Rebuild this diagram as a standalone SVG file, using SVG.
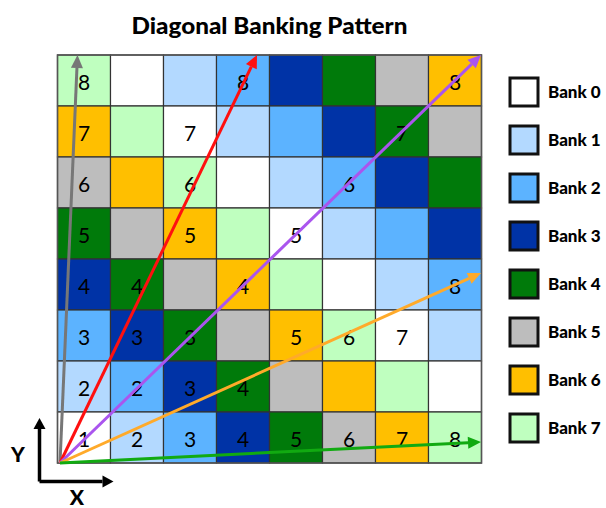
<svg xmlns="http://www.w3.org/2000/svg" width="606" height="508" viewBox="0 0 606 508">
<style>
.b0{fill:#FFFFFF}.b1{fill:#B3D9FF}.b2{fill:#5CB3FF}.b3{fill:#0033A6}.b4{fill:#007A0A}.b5{fill:#BDBDBD}.b6{fill:#FFBF00}.b7{fill:#BFFFBF}
.cell rect{stroke:#333;stroke-width:1.2}
.num{font-family:Lato,"Open Sans",sans-serif;font-size:21px;fill:#000;text-anchor:middle}
.title{font-family:Lato,"Open Sans",sans-serif;font-weight:900;font-size:23px;fill:#000;text-anchor:middle}
.leg rect{stroke:#111;stroke-width:3}
.leg text{font-family:Lato,"Open Sans",sans-serif;font-weight:900;font-size:17px;fill:#000}
.axl{font-family:Lato,"Open Sans",sans-serif;font-weight:900;font-size:21px;fill:#000;text-anchor:middle}
.conn line{stroke-width:3;fill:none}
</style>
<defs>
<marker id="ag" markerUnits="userSpaceOnUse" markerWidth="16" markerHeight="14" refX="0" refY="6" orient="auto" overflow="visible"><path d="M0,0 L13,6 L0,12 z" fill="#777777"/></marker>
<marker id="ar" markerUnits="userSpaceOnUse" markerWidth="16" markerHeight="14" refX="0" refY="6" orient="auto" overflow="visible"><path d="M0,0 L13,6 L0,12 z" fill="#FF1010"/></marker>
<marker id="ap" markerUnits="userSpaceOnUse" markerWidth="16" markerHeight="14" refX="0" refY="6" orient="auto" overflow="visible"><path d="M0,0 L13,6 L0,12 z" fill="#AA55EE"/></marker>
<marker id="ao" markerUnits="userSpaceOnUse" markerWidth="16" markerHeight="14" refX="0" refY="6" orient="auto" overflow="visible"><path d="M0,0 L13,6 L0,12 z" fill="#FFAA2A"/></marker>
<marker id="an" markerUnits="userSpaceOnUse" markerWidth="16" markerHeight="14" refX="0" refY="6" orient="auto" overflow="visible"><path d="M0,0 L13,6 L0,12 z" fill="#11AA11"/></marker>
<marker id="ak" markerUnits="userSpaceOnUse" markerWidth="16" markerHeight="14" refX="0" refY="6" orient="auto" overflow="visible"><path d="M0,0 L11,6 L0,12 z" fill="#000"/></marker>
</defs>
<rect width="606" height="508" fill="#FFFFFF"/>
<text class="title" x="269.5" y="34" textLength="276" lengthAdjust="spacingAndGlyphs">Diagonal Banking Pattern</text>

<g id="grid">
<g id="row8" class="cell">
<rect class="b7" x="57.5" y="55" width="53" height="51"/><rect class="b0" x="110.5" y="55" width="53" height="51"/><rect class="b1" x="163.5" y="55" width="53" height="51"/><rect class="b2" x="216.5" y="55" width="53" height="51"/><rect class="b3" x="269.5" y="55" width="53" height="51"/><rect class="b4" x="322.5" y="55" width="53" height="51"/><rect class="b5" x="375.5" y="55" width="53" height="51"/><rect class="b6" x="428.5" y="55" width="53" height="51"/>
</g>
<g id="row7" class="cell">
<rect class="b6" x="57.5" y="106" width="53" height="51"/><rect class="b7" x="110.5" y="106" width="53" height="51"/><rect class="b0" x="163.5" y="106" width="53" height="51"/><rect class="b1" x="216.5" y="106" width="53" height="51"/><rect class="b2" x="269.5" y="106" width="53" height="51"/><rect class="b3" x="322.5" y="106" width="53" height="51"/><rect class="b4" x="375.5" y="106" width="53" height="51"/><rect class="b5" x="428.5" y="106" width="53" height="51"/>
</g>
<g id="row6" class="cell">
<rect class="b5" x="57.5" y="157" width="53" height="51"/><rect class="b6" x="110.5" y="157" width="53" height="51"/><rect class="b7" x="163.5" y="157" width="53" height="51"/><rect class="b0" x="216.5" y="157" width="53" height="51"/><rect class="b1" x="269.5" y="157" width="53" height="51"/><rect class="b2" x="322.5" y="157" width="53" height="51"/><rect class="b3" x="375.5" y="157" width="53" height="51"/><rect class="b4" x="428.5" y="157" width="53" height="51"/>
</g>
<g id="row5" class="cell">
<rect class="b4" x="57.5" y="208" width="53" height="51"/><rect class="b5" x="110.5" y="208" width="53" height="51"/><rect class="b6" x="163.5" y="208" width="53" height="51"/><rect class="b7" x="216.5" y="208" width="53" height="51"/><rect class="b0" x="269.5" y="208" width="53" height="51"/><rect class="b1" x="322.5" y="208" width="53" height="51"/><rect class="b2" x="375.5" y="208" width="53" height="51"/><rect class="b3" x="428.5" y="208" width="53" height="51"/>
</g>
<g id="row4" class="cell">
<rect class="b3" x="57.5" y="259" width="53" height="51"/><rect class="b4" x="110.5" y="259" width="53" height="51"/><rect class="b5" x="163.5" y="259" width="53" height="51"/><rect class="b6" x="216.5" y="259" width="53" height="51"/><rect class="b7" x="269.5" y="259" width="53" height="51"/><rect class="b0" x="322.5" y="259" width="53" height="51"/><rect class="b1" x="375.5" y="259" width="53" height="51"/><rect class="b2" x="428.5" y="259" width="53" height="51"/>
</g>
<g id="row3" class="cell">
<rect class="b2" x="57.5" y="310" width="53" height="51"/><rect class="b3" x="110.5" y="310" width="53" height="51"/><rect class="b4" x="163.5" y="310" width="53" height="51"/><rect class="b5" x="216.5" y="310" width="53" height="51"/><rect class="b6" x="269.5" y="310" width="53" height="51"/><rect class="b7" x="322.5" y="310" width="53" height="51"/><rect class="b0" x="375.5" y="310" width="53" height="51"/><rect class="b1" x="428.5" y="310" width="53" height="51"/>
</g>
<g id="row2" class="cell">
<rect class="b1" x="57.5" y="361" width="53" height="51"/><rect class="b2" x="110.5" y="361" width="53" height="51"/><rect class="b3" x="163.5" y="361" width="53" height="51"/><rect class="b4" x="216.5" y="361" width="53" height="51"/><rect class="b5" x="269.5" y="361" width="53" height="51"/><rect class="b6" x="322.5" y="361" width="53" height="51"/><rect class="b7" x="375.5" y="361" width="53" height="51"/><rect class="b0" x="428.5" y="361" width="53" height="51"/>
</g>
<g id="row1" class="cell">
<rect class="b0" x="57.5" y="412" width="53" height="51"/><rect class="b1" x="110.5" y="412" width="53" height="51"/><rect class="b2" x="163.5" y="412" width="53" height="51"/><rect class="b3" x="216.5" y="412" width="53" height="51"/><rect class="b4" x="269.5" y="412" width="53" height="51"/><rect class="b5" x="322.5" y="412" width="53" height="51"/><rect class="b6" x="375.5" y="412" width="53" height="51"/><rect class="b7" x="428.5" y="412" width="53" height="51"/>
</g>
<rect x="57.5" y="55" width="424" height="408" fill="none" stroke="#555" stroke-width="1.5"/>
</g>

<g id="numbers" class="num">
<text x="84" y="90">8</text><text x="243" y="90">8</text><text x="455" y="90">8</text>
<text x="84" y="141">7</text><text x="190" y="141">7</text><text x="402" y="141">7</text>
<text x="84" y="192">6</text><text x="190" y="192">6</text><text x="349" y="192">6</text>
<text x="84" y="243">5</text><text x="190" y="243">5</text><text x="296" y="243">5</text>
<text x="84" y="294">4</text><text x="137" y="294">4</text><text x="243" y="294">4</text><text x="455" y="294">8</text>
<text x="84" y="345">3</text><text x="137" y="345">3</text><text x="190" y="345">3</text><text x="296" y="345">5</text><text x="349" y="345">6</text><text x="402" y="345">7</text>
<text x="84" y="396">2</text><text x="137" y="396">2</text><text x="190" y="396">3</text><text x="243" y="396">4</text>
<text x="84" y="447">1</text><text x="137" y="447">2</text><text x="190" y="447">3</text><text x="243" y="447">4</text><text x="296" y="447">5</text><text x="349" y="447">6</text><text x="402" y="447">7</text><text x="455" y="447">8</text>
</g>

<g id="connectors" class="conn">
<line x1="60" y1="463" x2="76.94" y2="67.99" stroke="#777777" marker-end="url(#ag)"/>
<line x1="60" y1="463" x2="251.35" y2="66.71" stroke="#FF1010" marker-end="url(#ar)"/>
<line x1="60" y1="463" x2="471.66" y2="64.05" stroke="#AA55EE" marker-end="url(#ap)"/>
<line x1="60" y1="463" x2="469.15" y2="278.35" stroke="#FFAA2A" marker-end="url(#ao)"/>
<line x1="60" y1="463" x2="468.02" y2="442.65" stroke="#11AA11" marker-end="url(#an)"/>
</g>

<g id="axes">
<path d="M39.5,481.5 L39.5,429" stroke="#000" stroke-width="3.5" fill="none" marker-end="url(#ak)"/>
<path d="M39.5,481.5 L102.5,481.5" stroke="#000" stroke-width="3.5" fill="none" marker-end="url(#ak)"/>
<text class="axl" x="18" y="462">Y</text>
<text class="axl" x="77" y="505">X</text>
</g>

<g id="legend" class="leg">
<g id="bank0"><rect class="b0" x="510" y="78" width="28" height="28"/><text x="548" y="98">Bank 0</text></g>
<g id="bank1"><rect class="b1" x="510" y="126" width="28" height="28"/><text x="548" y="146">Bank 1</text></g>
<g id="bank2"><rect class="b2" x="510" y="174" width="28" height="28"/><text x="548" y="194">Bank 2</text></g>
<g id="bank3"><rect class="b3" x="510" y="222" width="28" height="28"/><text x="548" y="242">Bank 3</text></g>
<g id="bank4"><rect class="b4" x="510" y="270" width="28" height="28"/><text x="548" y="290">Bank 4</text></g>
<g id="bank5"><rect class="b5" x="510" y="318" width="28" height="28"/><text x="548" y="338">Bank 5</text></g>
<g id="bank6"><rect class="b6" x="510" y="366" width="28" height="28"/><text x="548" y="386">Bank 6</text></g>
<g id="bank7"><rect class="b7" x="510" y="414" width="28" height="28"/><text x="548" y="434">Bank 7</text></g>
</g>
</svg>
